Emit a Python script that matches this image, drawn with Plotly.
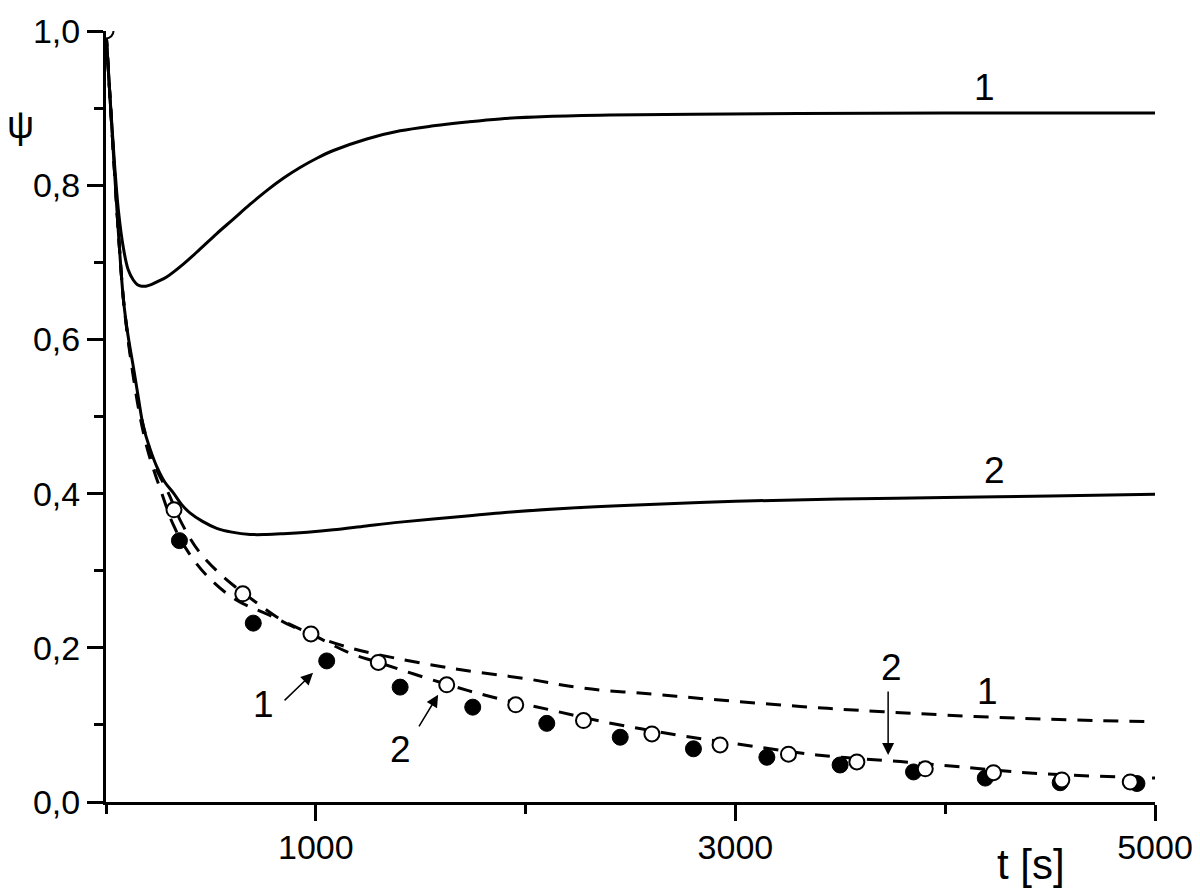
import plotly.graph_objects as go

# solid model curves
t_s1 = [0, 20, 40, 60, 82, 105, 130, 150, 170, 190, 215, 245, 289, 370, 448, 527, 607, 686, 766, 845,
        925, 1005, 1084, 1243, 1402, 1561, 1720, 1878, 2100, 2400, 2800, 3300, 4000, 5000]
psi_s1 = [1.0, 0.91, 0.83, 0.765, 0.72, 0.691, 0.677, 0.671, 0.669, 0.669, 0.671, 0.675, 0.681, 0.698,
          0.717, 0.737, 0.756, 0.775, 0.793, 0.809, 0.823, 0.835, 0.845, 0.860, 0.8705, 0.877, 0.882,
          0.886, 0.889, 0.891, 0.892, 0.893, 0.8935, 0.8935]

t_s2 = [0, 20, 40, 60, 83, 105, 130, 155, 178, 210, 242, 280, 321, 360, 400, 460, 528, 600, 687, 765,
        845, 960, 1084, 1240, 1402, 1720, 1878, 2200, 2500, 3000, 3500, 4000, 4500, 5000]
psi_s2 = [1.0, 0.91, 0.82, 0.735, 0.652, 0.605, 0.565, 0.523, 0.487, 0.458, 0.435, 0.415, 0.401, 0.386,
          0.375, 0.364, 0.355, 0.350, 0.347, 0.347, 0.348, 0.350, 0.353, 0.358, 0.363, 0.371, 0.375,
          0.381, 0.385, 0.390, 0.393, 0.395, 0.397, 0.399]

# dashed model curves
t_d1 = [0, 20, 40, 60, 83, 105, 130, 160, 195, 226, 265, 320, 390, 483, 615, 774, 977, 1163, 1300,
        1641, 2000, 2275, 2600, 2911, 3309, 3706, 4342, 5000]
psi_d1 = [1.0, 0.91, 0.82, 0.735, 0.652, 0.60, 0.552, 0.503, 0.46, 0.432, 0.401, 0.36, 0.325, 0.293,
          0.263, 0.243, 0.217, 0.200, 0.191, 0.1736, 0.160, 0.1476, 0.140, 0.1325, 0.124, 0.117,
          0.1087, 0.104]

t_d2 = [0, 20, 40, 60, 83, 105, 130, 160, 195, 235, 297, 360, 443, 555, 700, 837, 977, 1163, 1298,
        1608, 1831, 2117, 2371, 2721, 2991, 3388, 3786, 4056, 4421, 5000]
psi_d2 = [1.0, 0.91, 0.82, 0.735, 0.652, 0.602, 0.557, 0.51, 0.47, 0.435, 0.401, 0.362, 0.325, 0.293,
          0.262, 0.236, 0.218, 0.193, 0.181, 0.154, 0.1368, 0.1195, 0.104, 0.087, 0.076, 0.061,
          0.0524, 0.046, 0.0373, 0.031]

# experimental points
t_exp1 = [350, 702, 1052, 1402, 1748, 2101, 2451, 2800, 3150, 3499, 3849, 4191, 4548, 4914]
psi_exp1 = [0.339, 0.232, 0.183, 0.149, 0.123, 0.102, 0.084, 0.069, 0.058, 0.048, 0.039, 0.031,
            0.025, 0.024]

t_exp2 = [0, 324, 652, 977, 1298, 1624, 1953, 2276, 2602, 2927, 3253, 3579, 3905, 4230, 4556, 4882]
psi_exp2 = [1.0, 0.379, 0.270, 0.218, 0.181, 0.152, 0.126, 0.1056, 0.0883, 0.074, 0.062, 0.052,
            0.043, 0.038, 0.0286, 0.026]

y_ticks = [0.0, 0.2, 0.4, 0.6, 0.8, 1.0]
y_ticktext = ["0,0", "0,2", "0,4", "0,6", "0,8", "1,0"]
x_ticks = [1000, 3000, 5000]

FONT = "Liberation Sans, Arial, sans-serif"
BLACK = "black"

fig = go.Figure()

for tt, pp in [(t_s1, psi_s1), (t_s2, psi_s2)]:
    fig.add_trace(go.Scatter(x=tt, y=pp, mode="lines",
                             line=dict(color=BLACK, width=3, shape="spline", smoothing=1.0)))

for tt, pp in [(t_d1, psi_d1), (t_d2, psi_d2)]:
    fig.add_trace(go.Scatter(x=tt, y=pp, mode="lines",
                             line=dict(color=BLACK, width=3, dash="15px,11px",
                                       shape="spline", smoothing=1.0)))

fig.add_trace(go.Scatter(x=t_exp1, y=psi_exp1, mode="markers",
                         marker=dict(symbol="circle", size=16, color=BLACK,
                                     line=dict(color=BLACK, width=1))))
fig.add_trace(go.Scatter(x=t_exp2, y=psi_exp2, mode="markers",
                         marker=dict(symbol="circle", size=15, color="white",
                                     line=dict(color=BLACK, width=2))))

# curve labels
labels = [("1", 4186, 0.927), ("2", 4234, 0.430), ("2", 3742, 0.175), ("1", 4200, 0.143),
          ("1", 749, 0.126), ("2", 1406, 0.0675)]
for txt, x, y in labels:
    fig.add_annotation(x=x, y=y, text=txt, showarrow=False, xanchor="center", yanchor="middle",
                       font=dict(family=FONT, size=37, color=BLACK))

# arrows pointing at data
arrows = [(987, 0.1675, -30, 29), (1583, 0.139, -20, 33), (3728, 0.061, 0, -65)]
for x, y, ax, ay in arrows:
    fig.add_annotation(x=x, y=y, ax=ax, ay=ay, text="", showarrow=True,
                       arrowhead=2, arrowsize=1.6, arrowwidth=1.5, arrowcolor=BLACK)

# axis titles
fig.add_annotation(xref="paper", yref="paper", x=0.8818, y=-0.0817, text="t [s]",
                   xanchor="center", yanchor="middle",
                   showarrow=False, font=dict(family=FONT, size=42, color=BLACK))
fig.add_annotation(xref="paper", yref="paper", x=-0.0815, y=0.878, text="ψ",
                   xanchor="center", yanchor="middle",
                   showarrow=False, font=dict(family=FONT, size=38, color=BLACK))

# the page body has an 8px margin, so the figure is sized to fit the window
fig.update_layout(
    width=1192, height=883,
    margin=dict(l=98, r=45, t=23, b=89),
    plot_bgcolor="white", paper_bgcolor="white",
    showlegend=False,
    font=dict(family=FONT, color=BLACK),
)
fig.update_xaxes(range=[0, 5000], showgrid=False, zeroline=False,
                 showline=True, linecolor=BLACK, linewidth=3,
                 ticks="outside", ticklen=16, tickwidth=3, tickcolor=BLACK,
                 tickmode="array", tickvals=x_ticks, ticktext=[str(v) for v in x_ticks],
                 tickfont=dict(family=FONT, size=34, color=BLACK),
                 ticklabelstandoff=-3, ticklabeloverflow="allow",
                 minor=dict(tickmode="array", tickvals=[0, 2000, 4000], ticks="outside",
                            ticklen=9, tickwidth=3, tickcolor=BLACK),
                 automargin=False)
fig.update_yaxes(range=[0, 1.0], showgrid=False, zeroline=False,
                 showline=True, linecolor=BLACK, linewidth=3,
                 ticks="outside", ticklen=16, tickwidth=3, tickcolor=BLACK,
                 tickmode="array", tickvals=y_ticks, ticktext=y_ticktext,
                 tickfont=dict(family=FONT, size=34, color=BLACK),
                 ticklabeloverflow="allow",
                 minor=dict(tickmode="array", tickvals=[0.1, 0.3, 0.5, 0.7, 0.9], ticks="outside",
                            ticklen=9, tickwidth=3, tickcolor=BLACK),
                 automargin=False)

fig.write_html("out.html")
